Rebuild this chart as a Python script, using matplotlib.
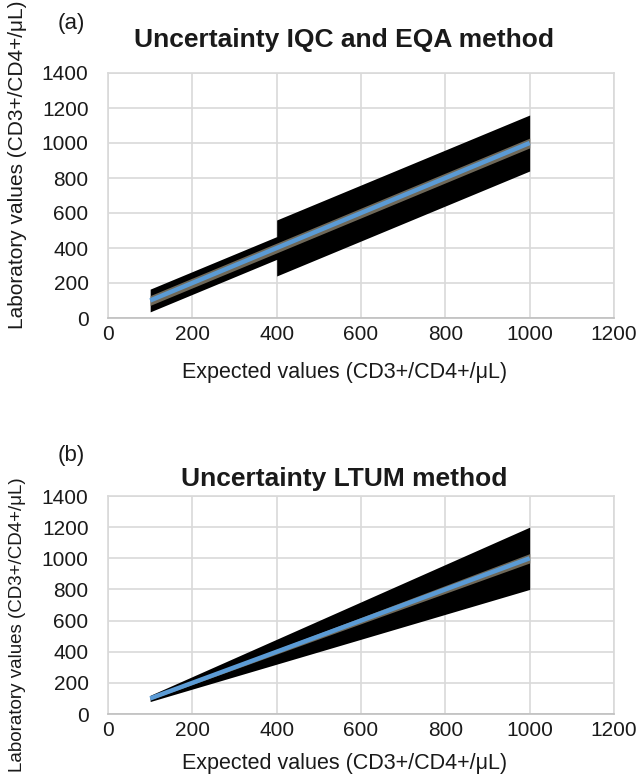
import matplotlib
matplotlib.use("Agg")
import matplotlib.pyplot as plt

plt.rcParams['font.family'] = ['Liberation Sans', 'DejaVu Sans']

# (a) IQC + EQA: expected values and uncertainty band edges
a_x = [100, 400, 400, 1000]
a_low = [35, 335, 240, 840]
a_high = [165, 465, 560, 1160]
a_inner_low = [72, 372, 372, 972]
a_inner_high = [128, 428, 428, 1028]

# (b) LTUM: proportional band
b_x = [100, 1000]
b_low = [80, 800]
b_high = [120, 1200]
b_inner_low = [92, 970]
b_inner_high = [108, 1030]

line_x = [100, 1000]
line_y = [100, 1000]

xticks = [0, 200, 400, 600, 800, 1000, 1200]
yticks = [0, 200, 400, 600, 800, 1000, 1200, 1400]

W, H = 641, 779
fig = plt.figure(figsize=(W / 100, H / 100), dpi=100)
txt = '#1a1a1a'

def px_axes(left, top, right, bottom):
    return fig.add_axes([left / W, 1 - bottom / H, (right - left) / W, (bottom - top) / H])

def ftext(x, y, s, **kw):
    fig.text(x / W, 1 - y / H, s, ha='center', va='center', color=txt, **kw)

def style(ax):
    ax.set_xlim(0, 1200)
    ax.set_ylim(0, 1400)
    ax.set_xticks(xticks)
    ax.set_yticks(yticks)
    ax.grid(True, color='#d9d9d9', linewidth=1.2)
    ax.set_axisbelow(True)
    for s in ax.spines.values():
        s.set_color('#d9d9d9')
        s.set_linewidth(1.2)
    ax.spines['bottom'].set_color('#bfbfbf')
    ax.tick_params(axis='x', length=0, labelsize=15, colors=txt, pad=5)
    ax.tick_params(axis='y', length=0, labelsize=15, colors=txt, pad=14)

def panel(top, bottom, xs, lo, hi, ilo, ihi):
    ax = px_axes(108, top, 614, bottom)
    ax.fill_between(xs, lo, hi, color='black', linewidth=0)
    ax.fill_between(xs, ilo, ihi, color='#6f6858', linewidth=0)
    ax.plot(line_x, line_y, color='#5b9bd5', linewidth=3.2, solid_capstyle='butt')
    style(ax)
    return ax

xlab = 'Expected values (CD3+/CD4+/\u03bcL)'
ylab = 'Laboratory values (CD3+/CD4+/\u03bcL)'

# panel (a)
panel(73, 318, a_x, a_low, a_high, a_inner_low, a_inner_high)
ftext(71, 24, '(a)', fontsize=16)
ftext(344, 40, 'Uncertainty IQC and EQA method', fontsize=19, fontweight='bold')
ftext(345, 372, xlab, fontsize=15.5)
ftext(18, 165, ylab, fontsize=15, rotation=90)

# panel (b)
panel(496, 714, b_x, b_low, b_high, b_inner_low, b_inner_high)
ftext(71, 455, '(b)', fontsize=16)
ftext(344, 479, 'Uncertainty LTUM method', fontsize=19, fontweight='bold')
ftext(345, 763, xlab, fontsize=15.5)
ftext(18, 625, ylab, fontsize=13.5, rotation=90)

fig.savefig('out.png', dpi=100)
